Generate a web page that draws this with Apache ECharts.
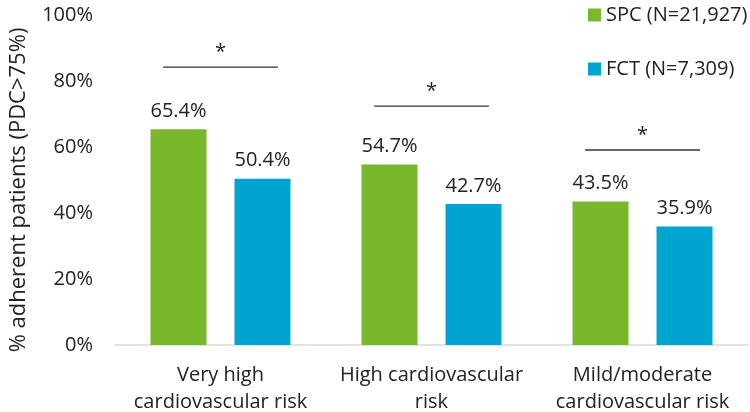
<!DOCTYPE html>
<html>
<head>
<meta charset="utf-8">
<script src="https://cdn.jsdelivr.net/npm/echarts@6/dist/echarts.min.js"></script>
<style>
html,body{margin:0;padding:0;background:#fff;}
#chart{width:750px;height:412px;}
</style>
</head>
<body>
<div id="chart"></div>
<script>
const categories = ['Very high\ncardiovascular risk', 'High cardiovascular\nrisk', 'Mild/moderate\ncardiovascular risk'];
const seriesNames = ['SPC (N=21,927)', 'FCT (N=7,309)'];
const spcValues = [65.4, 54.7, 43.5];
const fctValues = [50.4, 42.7, 35.9];
const yTicks = [0, 20, 40, 60, 80, 100];
const sigLevels = [84.2, 72.4, 59.1];
const sigMarks = ['*', '*', '*'];

const FONT = 'Open Sans';
const chart = echarts.init(document.getElementById('chart'), null, {renderer: 'canvas'});

const sigData = sigLevels.map((v, i) => [i, v, sigMarks[i]]);

chart.setOption({
  animation: false,
  textStyle: {fontFamily: FONT},
  grid: {left: 115, right: 2, top: 15, bottom: 67, outerBoundsMode: 'none', containLabel: false},
  legend: {
    orient: 'vertical',
    left: 583, top: 0,
    itemWidth: 13, itemHeight: 13,
    itemGap: 34,
    icon: 'rect',
    textStyle: {fontFamily: FONT, fontSize: 20, color: '#222'},
    data: seriesNames
  },
  xAxis: {
    type: 'category',
    data: categories,
    axisLine: {lineStyle: {color: '#D9D9D9', width: 1.5}},
    axisTick: {show: false},
    axisLabel: {fontFamily: FONT, fontSize: 20, color: '#222', lineHeight: 27, margin: 17, interval: 0}
  },
  yAxis: {
    type: 'value',
    min: yTicks[0], max: yTicks[yTicks.length - 1], interval: 20,
    name: '% adherent patients (PDC>75%)',
    nameLocation: 'middle',
    nameGap: 85,
    nameTextStyle: {fontFamily: FONT, fontSize: 22, color: '#222', padding: [0, 20, 0, 0]},
    axisLine: {show: false},
    axisTick: {show: false},
    splitLine: {show: false},
    axisLabel: {fontFamily: FONT, fontSize: 20, color: '#222', margin: 22, formatter: v => v + '%'}
  },
  series: [
    {
      name: seriesNames[0], type: 'bar', data: spcValues,
      itemStyle: {color: '#78B82A'},
      barWidth: 56, barGap: '50%',
      label: {show: true, position: 'top', distance: 8, fontFamily: FONT, fontSize: 20, color: '#222', formatter: p => p.value.toFixed(1) + '%'}
    },
    {
      name: seriesNames[1], type: 'bar', data: fctValues,
      itemStyle: {color: '#00A5CF'},
      barWidth: 56,
      label: {show: true, position: 'top', distance: 8, fontFamily: FONT, fontSize: 20, color: '#222', formatter: p => p.value.toFixed(1) + '%'}
    },
    {
      type: 'custom',
      data: sigData,
      silent: true,
      z: 5,
      renderItem: function (params, api) {
        const pt = api.coord([api.value(0), api.value(1)]);
        const band = api.size([1, 0])[0];
        const half = band * 0.272;
        return {
          type: 'group',
          children: [
            {type: 'line', shape: {x1: pt[0] - half, y1: pt[1], x2: pt[0] + half, y2: pt[1]}, style: {stroke: '#333', lineWidth: 1.4}},
            {type: 'text', style: {x: pt[0], y: pt[1] - 15, text: sigData[params.dataIndex][2], fontFamily: FONT, fontSize: 20, fill: '#222', align: 'center', verticalAlign: 'middle'}}
          ]
        };
      }
    }
  ]
});
</script>
</body>
</html>
